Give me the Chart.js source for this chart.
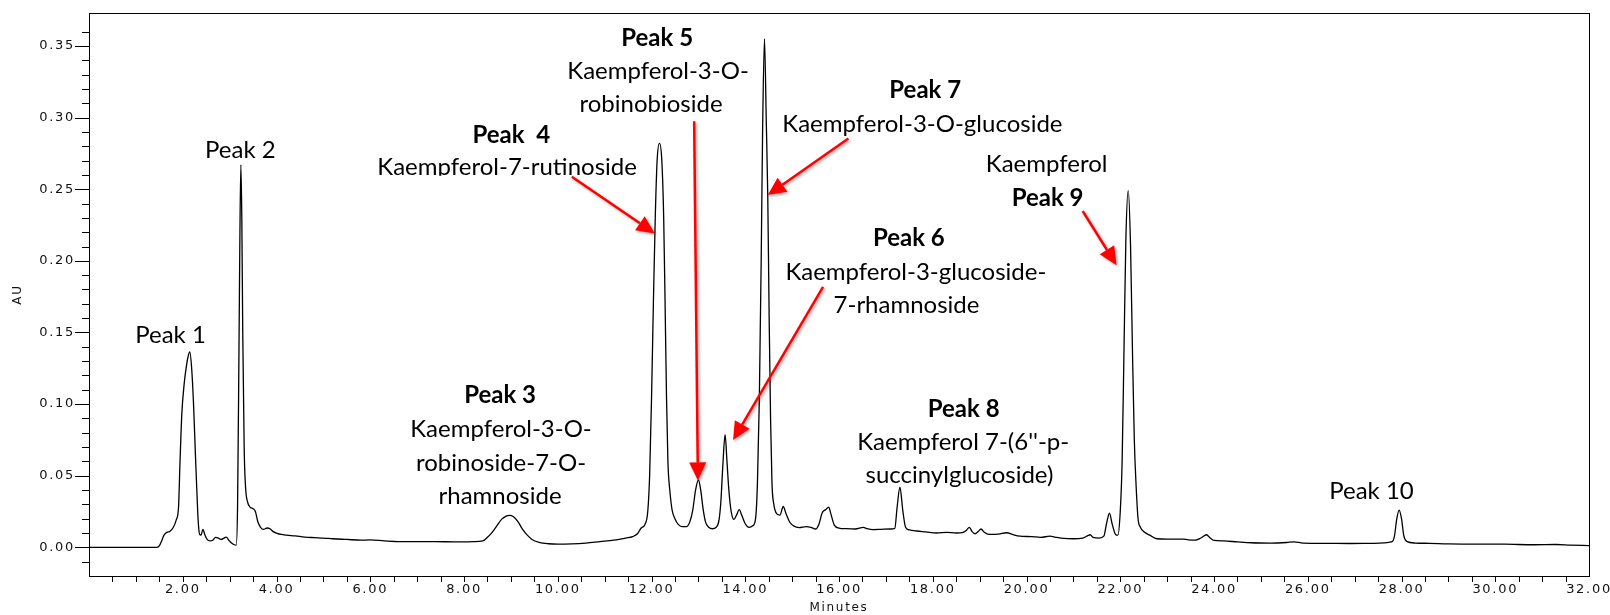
<!DOCTYPE html>
<html>
<head>
<meta charset="utf-8">
<script src="https://cdn.jsdelivr.net/npm/chart.js@4.4.0/dist/chart.umd.min.js"></script>
<style>
  html, body { margin: 0; padding: 0; background: #fff; }
</style>
</head>
<body>
<canvas id="chart" width="1610" height="615"></canvas>
<script>
// retention time (minutes) and absorbance (AU)
const times = [
  0.00, 1.00, 1.45, 1.50, 1.55, 1.60, 1.66, 1.72, 1.80, 1.86, 1.91, 1.94, 1.98, 2.03, 2.08, 2.12, 2.15,
  2.19, 2.23, 2.27, 2.30, 2.33, 2.36, 2.39, 2.43, 2.47, 2.52, 2.58, 2.64, 2.70, 2.76, 2.82, 2.88,
  2.93, 2.98, 3.04, 3.10, 3.14, 3.17, 3.20, 3.22, 3.24, 3.26, 3.28, 3.31, 3.34, 3.38, 3.44, 3.50,
  3.55, 3.60, 3.66, 3.72, 3.80, 3.86, 3.93, 4.00, 4.10, 4.22, 4.40, 4.60, 4.80, 5.00, 5.20, 5.50,
  5.80, 6.00, 6.30, 6.60, 7.00, 7.40, 7.80, 8.20, 8.40, 8.50, 8.60, 8.70, 8.80, 8.90, 8.97, 9.05,
  9.15, 9.25, 9.35, 9.45, 9.60, 9.80, 10.00, 10.30, 10.60, 10.90, 11.20, 11.45, 11.60, 11.70, 11.78, 11.86,
  11.92, 11.96, 12.00, 12.04, 12.08, 12.12, 12.17, 12.22, 12.26, 12.29, 12.32, 12.35, 12.39, 12.44, 12.50, 12.57,
  12.65, 12.75, 12.82, 12.88, 12.94, 13.00, 13.05, 13.10, 13.15, 13.22, 13.30, 13.38, 13.44, 13.48, 13.52, 13.57,
  13.61, 13.65, 13.70, 13.76, 13.82, 13.87, 13.93, 14.00, 14.08, 14.16, 14.22, 14.26, 14.30, 14.34, 14.37, 14.41,
  14.45, 14.48, 14.51, 14.54, 14.57, 14.61, 14.67, 14.74, 14.81, 14.87, 14.95, 15.03, 15.15, 15.30, 15.40, 15.50,
  15.57, 15.64, 15.72, 15.78, 15.83, 15.90, 16.00, 16.16, 16.35, 16.52, 16.60, 16.73, 16.90, 17.10, 17.19, 17.24,
  17.30, 17.36, 17.42, 17.50, 17.66, 17.85, 18.08, 18.30, 18.50, 18.65, 18.72, 18.78, 18.84, 18.90, 18.97, 19.03,
  19.10, 19.20, 19.40, 19.58, 19.70, 19.86, 20.10, 20.30, 20.50, 20.60, 20.80, 21.00, 21.20, 21.30, 21.36, 21.42,
  21.55, 21.65, 21.71, 21.77, 21.83, 21.90, 21.95, 22.00, 22.04, 22.08, 22.12, 22.17, 22.22, 22.26, 22.30, 22.34,
  22.38, 22.43, 22.50, 22.63, 22.78, 23.00, 23.20, 23.34, 23.45, 23.60, 23.72, 23.84, 23.92, 24.00, 24.20, 24.50,
  24.80, 25.20, 25.55, 25.70, 25.90, 26.40, 26.90, 27.40, 27.80, 27.85, 27.90, 27.95, 28.00, 28.05, 28.11, 28.30,
  28.60, 29.00, 29.60, 30.20, 30.80, 31.30, 31.60, 32.00
];
const absorb = [
  0.0000, 0.0000, 0.0000, 0.0010, 0.0045, 0.0085, 0.0105, 0.0110, 0.0140, 0.0190, 0.0280, 0.0580, 0.0930, 0.1140, 0.1270, 0.1340, 0.1365,
  0.1250, 0.1000, 0.0650, 0.0400, 0.0180, 0.0090, 0.0085, 0.0125, 0.0090, 0.0055, 0.0045, 0.0050, 0.0070, 0.0065, 0.0055, 0.0065,
  0.0072, 0.0050, 0.0030, 0.0018, 0.0015, 0.0300, 0.1400, 0.2200, 0.2670, 0.2300, 0.1500, 0.0700, 0.0420, 0.0320, 0.0280, 0.0270,
  0.0250, 0.0180, 0.0140, 0.0125, 0.0135, 0.0130, 0.0110, 0.0100, 0.0090, 0.0085, 0.0080, 0.0072, 0.0068, 0.0065, 0.0060, 0.0055,
  0.0050, 0.0052, 0.0045, 0.0040, 0.0040, 0.0040, 0.0038, 0.0040, 0.0045, 0.0070, 0.0105, 0.0150, 0.0195, 0.0218, 0.0223, 0.0215,
  0.0180, 0.0125, 0.0085, 0.0055, 0.0035, 0.0025, 0.0022, 0.0024, 0.0030, 0.0040, 0.0050, 0.0065, 0.0075, 0.0095, 0.0135, 0.0160,
  0.0250, 0.0500, 0.1030, 0.1700, 0.2300, 0.2700, 0.2820, 0.2700, 0.2300, 0.1700, 0.1050, 0.0600, 0.0400, 0.0260, 0.0200, 0.0160,
  0.0145, 0.0145, 0.0180, 0.0260, 0.0400, 0.0470, 0.0400, 0.0270, 0.0180, 0.0140, 0.0130, 0.0140, 0.0190, 0.0320, 0.0560, 0.0786,
  0.0600, 0.0400, 0.0250, 0.0195, 0.0230, 0.0263, 0.0220, 0.0165, 0.0140, 0.0150, 0.0200, 0.0450, 0.1030, 0.2000, 0.2900, 0.3550,
  0.2950, 0.2460, 0.1600, 0.0900, 0.0450, 0.0300, 0.0235, 0.0225, 0.0285, 0.0235, 0.0175, 0.0150, 0.0138, 0.0145, 0.0140, 0.0128,
  0.0160, 0.0240, 0.0265, 0.0280, 0.0230, 0.0155, 0.0135, 0.0130, 0.0128, 0.0140, 0.0130, 0.0124, 0.0126, 0.0128, 0.0132, 0.0280,
  0.0420, 0.0260, 0.0140, 0.0122, 0.0114, 0.0108, 0.0100, 0.0105, 0.0100, 0.0105, 0.0120, 0.0140, 0.0110, 0.0095, 0.0110, 0.0128,
  0.0105, 0.0090, 0.0092, 0.0102, 0.0090, 0.0078, 0.0075, 0.0070, 0.0078, 0.0072, 0.0062, 0.0060, 0.0065, 0.0080, 0.0088, 0.0070,
  0.0065, 0.0078, 0.0170, 0.0238, 0.0160, 0.0090, 0.0085, 0.0250, 0.0600, 0.1380, 0.2150, 0.2490, 0.2100, 0.1380, 0.0750, 0.0420,
  0.0200, 0.0140, 0.0110, 0.0085, 0.0060, 0.0058, 0.0058, 0.0058, 0.0052, 0.0050, 0.0065, 0.0088, 0.0065, 0.0048, 0.0045, 0.0038,
  0.0032, 0.0030, 0.0034, 0.0038, 0.0030, 0.0028, 0.0027, 0.0028, 0.0040, 0.0080, 0.0200, 0.0260, 0.0200, 0.0080, 0.0042, 0.0030,
  0.0028, 0.0024, 0.0022, 0.0022, 0.0018, 0.0020, 0.0016, 0.0012
];

// axis tick labels
const xLabels = [2, 4, 6, 8, 10, 12, 14, 16, 18, 20, 22, 24, 26, 28, 30, 32];
const yLabels = [0, 0.05, 0.10, 0.15, 0.20, 0.25, 0.30, 0.35];

// annotation text and where it sits (minutes, AU)
const noteText = ['Peak 1', 'Peak 2', 'Peak 3', 'Kaempferol-3-O-', 'robinoside-7-O-', 'rhamnoside',
  'Peak  4', 'Kaempferol-7-rutinoside', 'Peak 5', 'Kaempferol-3-O-', 'robinobioside',
  'Peak 7', 'Kaempferol-3-O-glucoside', 'Peak 6', 'Kaempferol-3-glucoside-', '7-rhamnoside',
  'Peak 8', "Kaempferol 7-(6''-p-", 'succinylglucoside)', 'Kaempferol', 'Peak 9', 'Peak 10'];
const noteBold = [0, 0, 1, 0, 0, 0, 1, 0, 1, 0, 0, 1, 0, 1, 0, 0, 1, 0, 0, 0, 1, 0];
// lines whose text box cuts off the bottom of the glyphs
const noteCut = [0, 0, 0, 0, 0, 0, 0, 1, 0, 0, 0, 0, 0, 0, 0, 1, 0, 0, 0, 0, 0, 0];
const noteT = [1.74, 3.23, 8.77, 8.79, 8.79, 8.77, 9.01, 8.92, 12.12, 12.14, 11.99,
  17.84, 17.78, 17.49, 17.64, 17.44, 18.66, 18.65, 18.57, 20.43, 20.45, 27.36];
const noteAU = [0.148, 0.277, 0.106, 0.0824, 0.0588, 0.0359, 0.288, 0.265, 0.3554, 0.3325, 0.3096,
  0.3189, 0.2952, 0.2157, 0.192, 0.1691, 0.0967, 0.0731, 0.0502, 0.2673, 0.2436, 0.0394];

// red arrows: start and tip (minutes, AU)
const arrowFromT = [10.30, 12.91, 16.20, 15.66, 21.20];
const arrowFromAU = [0.2587, 0.2974, 0.2854, 0.1818, 0.2347];
const arrowToT = [12.07, 12.99, 14.48, 13.74, 21.92];
const arrowToAU = [0.2191, 0.0467, 0.2459, 0.0749, 0.197];

const minorX = [];
for (let v = 0.5; v < 32; v += 0.5) minorX.push(v);
const minorY = [];
for (let v = -0.01; v <= 0.37; v += 0.01) minorY.push(Math.round(v * 100) / 100);

const axisFont = { family: 'DejaVu Sans', size: 13 };
const titleFont = { family: 'DejaVu Sans', size: 12 };
const noteFont = 'Lato';

const spacing = {
  id: 'spacing',
  beforeDraw(chart) { chart.ctx.letterSpacing = '1.7px'; }
};

function arrow(ctx, x1, y1, x2, y2) {
  const a = Math.atan2(y2 - y1, x2 - x1);
  const hl = 18, hw = 8.5;
  const bx = x2 - hl * Math.cos(a), by = y2 - hl * Math.sin(a);
  ctx.beginPath();
  ctx.moveTo(x1, y1);
  ctx.lineTo(bx, by);
  ctx.stroke();
  ctx.beginPath();
  ctx.moveTo(x2, y2);
  ctx.lineTo(bx + hw * Math.sin(a), by - hw * Math.cos(a));
  ctx.lineTo(bx - hw * Math.sin(a), by + hw * Math.cos(a));
  ctx.closePath();
  ctx.fill();
}

const decor = {
  id: 'decor',
  afterDraw(chart) {
    const { ctx, chartArea: a, scales: { x, y } } = chart;
    ctx.save();
    ctx.letterSpacing = '0px';
    ctx.strokeStyle = '#000';
    ctx.lineWidth = 1;
    ctx.strokeRect(a.left + 0.5, a.top + 0.5, a.right - a.left, a.bottom - a.top);

    ctx.beginPath();
    minorY.forEach(v => {
      const p = Math.round(y.getPixelForValue(v)) + 0.5;
      const len = yLabels.some(l => Math.abs(l - v) < 1e-6) ? 14 : 7;
      ctx.moveTo(a.left - len, p);
      ctx.lineTo(a.left, p);
    });
    minorX.forEach(v => {
      const p = Math.round(x.getPixelForValue(v)) + 0.5;
      ctx.moveTo(p, a.bottom);
      ctx.lineTo(p, a.bottom + 6);
    });
    ctx.stroke();

    // arrows
    ctx.save();
    ctx.strokeStyle = '#ff0000';
    ctx.fillStyle = '#ff0000';
    ctx.lineWidth = 2.5;
    ctx.shadowColor = 'rgba(0,0,0,0.35)';
    ctx.shadowBlur = 3;
    ctx.shadowOffsetX = 1.5;
    ctx.shadowOffsetY = 1.5;
    arrowFromT.forEach((t, i) => {
      arrow(ctx, x.getPixelForValue(t), y.getPixelForValue(arrowFromAU[i]),
        x.getPixelForValue(arrowToT[i]), y.getPixelForValue(arrowToAU[i]));
    });
    ctx.restore();

    // notes
    ctx.fillStyle = '#000';
    ctx.textAlign = 'center';
    ctx.textBaseline = 'middle';
    noteText.forEach((s, i) => {
      const px = x.getPixelForValue(noteT[i]);
      const py = y.getPixelForValue(noteAU[i]);
      ctx.save();
      if (noteCut[i]) {
        ctx.beginPath();
        ctx.rect(px - 200, py - 30, 400, 38);
        ctx.clip();
      }
      ctx.font = (noteBold[i] ? 'bold ' : '') + '24px ' + noteFont;
      ctx.fillText(s, px, py);
      ctx.restore();
    });
    ctx.restore();
  }
};

new Chart(document.getElementById('chart'), {
  type: 'line',
  data: {
    datasets: [{
      data: times.map((t, i) => ({ x: t, y: absorb[i] })),
      borderColor: '#000',
      borderWidth: 1.3,
      pointRadius: 0,
      fill: false,
      cubicInterpolationMode: 'monotone'
    }]
  },
  options: {
    responsive: false,
    animation: false,
    layout: { padding: { top: 13, right: 21, left: 0, bottom: 0 } },
    plugins: { legend: { display: false }, tooltip: { enabled: false } },
    scales: {
      x: {
        type: 'linear',
        min: 0,
        max: 32,
        afterBuildTicks: s => { s.ticks = xLabels.map(v => ({ value: v })); },
        afterFit: s => { s.height = 39; s.paddingLeft = 0; s.paddingRight = 0; },
        grid: { display: false, drawTicks: false },
        border: { display: false },
        ticks: { callback: v => v.toFixed(2), font: axisFont, color: '#111', padding: 6, maxRotation: 0, autoSkip: false },
        title: { display: true, text: 'Minutes', font: titleFont, color: '#111', padding: { top: 0, bottom: 0 } }
      },
      y: {
        min: -0.02,
        max: 0.373,
        afterBuildTicks: s => { s.ticks = yLabels.map(v => ({ value: v })); },
        afterFit: s => { s.width = 89; s.paddingTop = 0; s.paddingBottom = 0; },
        grid: { display: false, drawTicks: false },
        border: { display: false },
        ticks: { callback: v => v.toFixed(2), font: axisFont, color: '#111', padding: 14 },
        title: { display: true, text: 'AU', font: titleFont, color: '#111', padding: { top: 11, bottom: 0 } }
      }
    }
  },
  plugins: [spacing, decor]
});
</script>
</body>
</html>
